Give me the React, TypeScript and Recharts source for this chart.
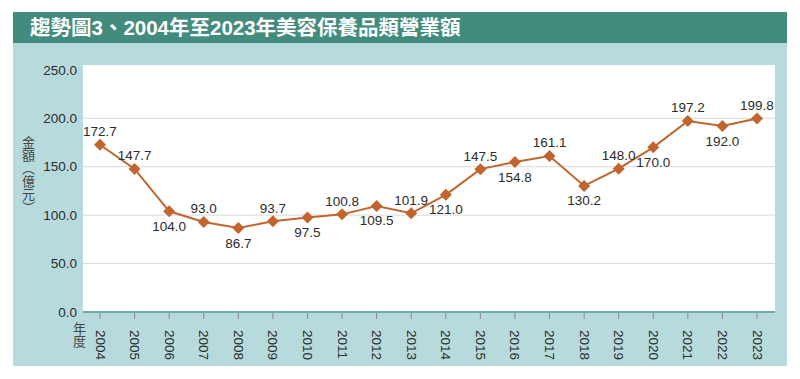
import { LineChart, Line, XAxis, YAxis, CartesianGrid, LabelList } from "recharts";

const years = [
  "2004", "2005", "2006", "2007", "2008", "2009", "2010", "2011", "2012", "2013",
  "2014", "2015", "2016", "2017", "2018", "2019", "2020", "2021", "2022", "2023",
];
const revenue = [
  172.7, 147.7, 104.0, 93.0, 86.7, 93.7, 97.5, 100.8, 109.5, 101.9,
  121.0, 147.5, 154.8, 161.1, 130.2, 148.0, 170.0, 197.2, 192.0, 199.8,
];
const yTicks = [0, 50, 100, 150, 200, 250];
const gridValues = [50, 100, 150, 200];

const data = years.map((year, i) => ({ year, value: revenue[i] }));

const LINE = "#c2642d";
const TEXT = "#2b2b2b";
const FONT = '"Liberation Sans", Arial, "Noto Sans CJK TC", sans-serif';
const CJK = '"Noto Sans CJK TC", sans-serif';

function Diamond(props: any) {
  const { cx, cy } = props;
  if (cx == null || cy == null) return null;
  const r = 6;
  return (
    <polygon
      points={`${cx},${cy - r} ${cx + r},${cy} ${cx},${cy + r} ${cx - r},${cy}`}
      fill={LINE}
    />
  );
}

function PointLabel(props: any) {
  const { x, y, value, index } = props;
  const above = index === 0 || index % 2 === 1;
  return (
    <text
      x={x}
      y={above ? y - 13 : y + 15}
      textAnchor="middle"
      dominantBaseline="central"
      fontSize={13.5}
      fill={TEXT}
      fontFamily={FONT}
    >
      {Number(value).toFixed(1)}
    </text>
  );
}

function YearTick(props: any) {
  const { x, y, payload } = props;
  return (
    <g>
      <line x1={x} y1={y - 7} x2={x} y2={y - 1} stroke="#8a8a8a" strokeWidth={1} />
      <text
        transform={`translate(${x},${y + 10}) rotate(90)`}
        textAnchor="start"
        dominantBaseline="central"
        fontSize={13.5}
        fill={TEXT}
        fontFamily={FONT}
      >
        {payload.value}
      </text>
    </g>
  );
}

function VerticalTitle({ text, left, top }: { text: string; left: number; top: number }) {
  return (
    <div
      style={{
        position: "absolute",
        left,
        top,
        writingMode: "vertical-rl",
        fontFamily: CJK,
        fontSize: 13,
        lineHeight: "16px",
        color: "#444",
        whiteSpace: "nowrap",
      }}
    >
      {text}
    </div>
  );
}

export default function App() {
  return (
    <div
      style={{
        position: "absolute",
        left: 0,
        top: 0,
        width: 800,
        height: 379,
        background: "#fff",
        fontFamily: FONT,
      }}
    >
      <div
        style={{
          position: "absolute",
          left: 13,
          top: 12,
          width: 774,
          height: 31,
          background: "#438c7d",
          color: "#fff",
          fontWeight: 700,
          fontSize: 20.5,
          lineHeight: "31px",
          paddingLeft: 17,
          boxSizing: "border-box",
          whiteSpace: "nowrap",
        }}
      >
        趨勢圖3、2004年至2023年美容保養品類營業額
      </div>
      <div
        style={{
          position: "absolute",
          left: 13,
          top: 43,
          width: 774,
          height: 323,
          background: "#b7dbdc",
        }}
      />
      <VerticalTitle text="金額（億元）" left={20} top={136} />
      <VerticalTitle text="年度" left={71} top={322} />
      <div style={{ position: "absolute", left: 0, top: 0 }}>
        <LineChart
          width={800}
          height={379}
          data={data}
          margin={{ top: 65, right: 25, bottom: 22, left: 13 }}
        >
          <CartesianGrid
            vertical={false}
            horizontalValues={gridValues}
            stroke="#d9d9d9"
            fill="#ffffff"
            fillOpacity={1}
          />
          <XAxis
            dataKey="year"
            padding={{ left: 17, right: 18 }}
            interval={0}
            height={45}
            axisLine={{ stroke: "#6fa9a6", strokeWidth: 2 }}
            tickLine={false}
            tick={<YearTick />}
          />
          <YAxis
            width={70}
            domain={[0, 255]}
            ticks={yTicks}
            allowDataOverflow
            axisLine={false}
            tickLine={false}
            tickSize={4}
            tickMargin={2}
            tickFormatter={(v: number) => v.toFixed(1)}
            tick={{ fontSize: 13.5, fill: TEXT, fontFamily: FONT }}
          />
          <Line
            type="linear"
            dataKey="value"
            stroke={LINE}
            strokeWidth={2}
            dot={<Diamond />}
            activeDot={false}
            isAnimationActive={false}
          >
            <LabelList dataKey="value" content={<PointLabel />} />
          </Line>
        </LineChart>
      </div>
    </div>
  );
}
